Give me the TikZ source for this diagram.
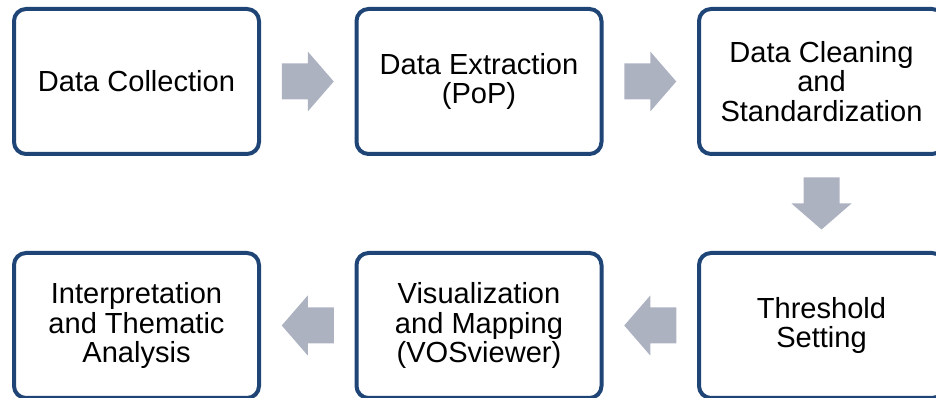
\documentclass[tikz,border=0pt]{standalone}
\usepackage{fontspec}
\setmainfont{Liberation Sans}
\usepackage{tikz}
\usetikzlibrary{positioning,calc}
\definecolor{boxBlue}{HTML}{1F4476}
\definecolor{arrowGray}{HTML}{ADB2C1}
\tikzstyle{stepbox}=[draw=boxBlue, line width=3pt, rounded corners=9pt, fill=white,
  minimum width=245*0.75pt, minimum height=145*0.75pt, align=center,
  font=\fontsize{21.8}{22.4}\selectfont]
\tikzstyle{flowarrow}=[fill=arrowGray]

% block arrow half way between two nodes
\newcommand{\blockarrow}[3]{%
  \fill[flowarrow, shift={($(#1)!0.5!(#2)$)}, rotate=#3]
    (-26,-18) -- (0,-18) -- (0,-30) -- (26,0) -- (0,30) -- (0,18) -- (-26,18) -- cycle;}

\begin{document}
\begin{tikzpicture}[x=0.75pt, y=0.75pt]
  \useasboundingbox (0,0) rectangle (936,-398);
  \def\ytop{-81.5};
  \def\ybot{-325.5};

  % top row
  \node[stepbox] (dc) at (136.5,\ytop) {Data Collection};
  \node[stepbox] (de) at (479,\ytop) {Data Extraction\\(PoP)};
  \node[stepbox] (dcs) at (821.5,\ytop) {Data Cleaning\\and\\Standardization};

  % bottom row
  \node[stepbox] (ts) at (821.5,\ybot) {Threshold\\Setting};
  \node[stepbox] (vm) at (479,\ybot) {Visualization\\and Mapping\\(VOSviewer)};
  \node[stepbox] (ita) at (136.5,\ybot) {Interpretation\\and Thematic\\Analysis};

  % arrows
  \blockarrow{dc.east}{de.west}{0}
  \blockarrow{de.east}{dcs.west}{0}
  \blockarrow{dcs.south}{ts.north}{-90}
  \blockarrow{ts.west}{vm.east}{180}
  \blockarrow{vm.west}{ita.east}{180}
\end{tikzpicture}
\end{document}
